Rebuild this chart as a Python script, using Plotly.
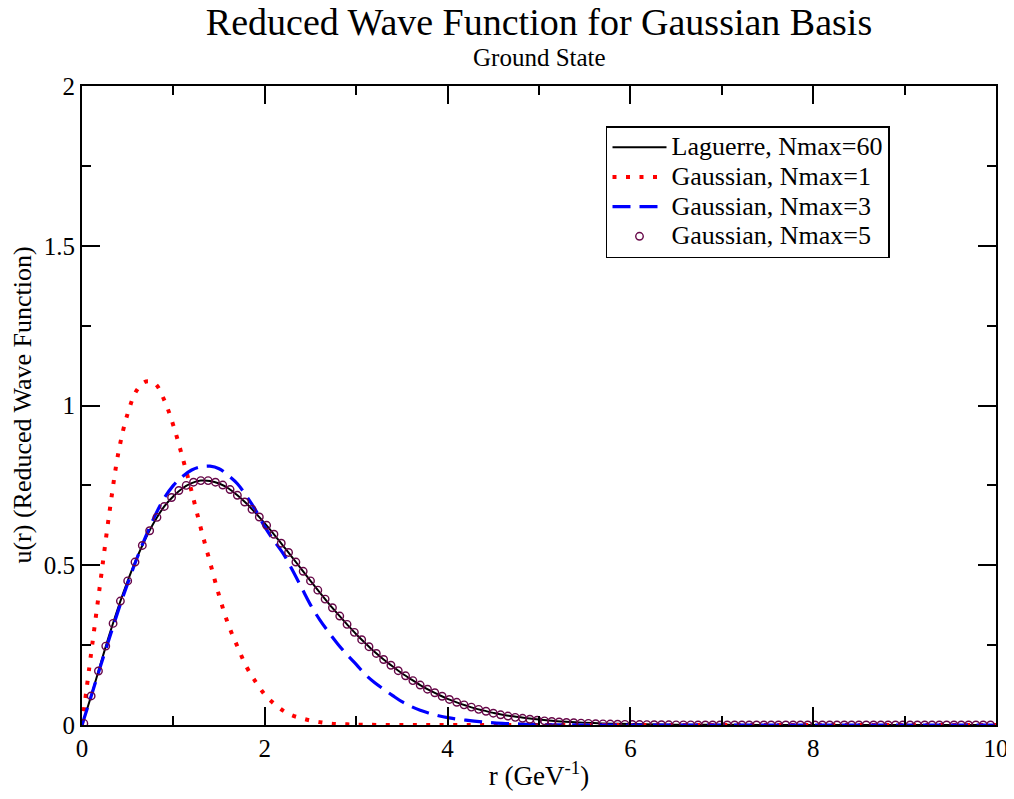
import plotly.graph_objects as go

# values
laguerre_r = [0.0, 0.1, 0.2, 0.3, 0.4, 0.5, 0.6, 0.7, 0.8, 0.9,
              1.0, 1.1, 1.2, 1.3, 1.4, 1.5, 1.6, 1.7, 1.8, 1.9,
              2.0, 2.1, 2.2, 2.3, 2.4, 2.5, 2.6, 2.7, 2.8, 2.9,
              3.0, 3.1, 3.2, 3.3, 3.4, 3.5, 3.6, 3.7, 3.8, 3.9,
              4.0, 4.1, 4.2, 4.3, 4.4, 4.5, 4.6, 4.7, 4.8, 4.9,
              5.0, 5.2, 5.4, 5.6, 5.8, 6.0, 6.5, 7.0, 8.0, 9.0, 10.0]
laguerre_u = [0.0, 0.091, 0.188, 0.283, 0.371, 0.451, 0.523, 0.586, 0.640, 0.684,
              0.716, 0.741, 0.757, 0.765, 0.764, 0.756, 0.741, 0.719, 0.693, 0.663,
              0.631, 0.597, 0.561, 0.525, 0.488, 0.451, 0.415, 0.380, 0.347, 0.315,
              0.284, 0.256, 0.229, 0.205, 0.183, 0.162, 0.143, 0.125, 0.109, 0.095,
              0.082, 0.071, 0.061, 0.052, 0.045, 0.038, 0.032, 0.028, 0.024, 0.020,
              0.017, 0.012, 0.0085, 0.006, 0.004, 0.003, 0.001, 0.0005, 0.0, 0.0, 0.0]

gauss1_r = [0.0, 0.1, 0.2, 0.3, 0.4, 0.5, 0.6, 0.7, 0.8, 0.9,
            1.0, 1.1, 1.2, 1.3, 1.4, 1.5, 1.6, 1.7, 1.8, 1.9,
            2.0, 2.1, 2.2, 2.3, 2.4, 2.5, 2.6, 2.7, 2.8, 2.9,
            3.0, 3.5, 4.0, 5.0, 6.0, 7.0, 8.0, 9.0, 10.0]
gauss1_u = [0.0, 0.225, 0.445, 0.665, 0.855, 0.975, 1.048, 1.075, 1.068, 1.017,
            0.937, 0.837, 0.730, 0.616, 0.510, 0.405, 0.315, 0.246, 0.182, 0.135,
            0.095, 0.067, 0.045, 0.030, 0.021, 0.014, 0.009, 0.005, 0.003, 0.002,
            0.001, 0.0, 0.0, 0.0, 0.0, 0.0, 0.0, 0.0, 0.0]

gauss3_r = [0.0, 0.1, 0.2, 0.3, 0.4, 0.5, 0.6, 0.7, 0.8, 0.9,
            1.0, 1.1, 1.2, 1.3, 1.4, 1.5, 1.6, 1.7, 1.8, 1.9,
            2.0, 2.1, 2.2, 2.3, 2.4, 2.5, 2.6, 2.7, 2.8, 2.9,
            3.0, 3.1, 3.2, 3.3, 3.4, 3.5, 3.6, 3.7, 3.8, 3.9,
            4.0, 4.2, 4.4, 4.6, 4.8, 5.0, 5.5, 6.0, 7.0, 8.0, 9.0, 10.0]
gauss3_u = [0.0, 0.090, 0.182, 0.272, 0.361, 0.443, 0.521, 0.592, 0.656, 0.710,
            0.750, 0.778, 0.798, 0.808, 0.810, 0.802, 0.781, 0.755, 0.716, 0.672,
            0.620, 0.577, 0.537, 0.486, 0.431, 0.376, 0.330, 0.290, 0.253, 0.220,
            0.190, 0.158, 0.133, 0.112, 0.092, 0.073, 0.058, 0.046, 0.037, 0.029,
            0.023, 0.015, 0.009, 0.005, 0.003, 0.001, 0.0, 0.0, 0.0, 0.0, 0.0, 0.0]

# Gaussian Nmax=5 samples: r starts at 0.02, step 0.08
gauss5_r0 = 0.02
gauss5_dr = 0.08
gauss5_u = [0.005, 0.091, 0.169, 0.247, 0.318, 0.388, 0.451, 0.510, 0.562, 0.608,
            0.650, 0.684, 0.712, 0.734, 0.750, 0.760, 0.765, 0.765, 0.760, 0.751,
            0.737, 0.719, 0.698, 0.675, 0.651, 0.625, 0.597, 0.569, 0.540, 0.510,
            0.481, 0.451, 0.422, 0.394, 0.367, 0.341, 0.315, 0.290, 0.267, 0.245,
            0.224, 0.205, 0.187, 0.170, 0.154, 0.139, 0.125, 0.112, 0.101, 0.090,
            0.080, 0.071, 0.063, 0.056, 0.049, 0.043, 0.037, 0.032, 0.028, 0.024,
            0.021, 0.018, 0.015, 0.013, 0.011, 0.0095, 0.008, 0.007, 0.006, 0.005,
            0.004, 0.0035, 0.003, 0.0025, 0.002, 0.0017, 0.0014, 0.0012, 0.001, 0.0008,
            0.0006, 0.0005, 0.0004, 0.0003, 0.0002, 0.0001, 0.0, 0.0, 0.0, 0.0,
            0.0, 0.0, 0.0, 0.0, 0.0, 0.0, 0.0, 0.0, 0.0, 0.0,
            0.0, 0.0, 0.0, 0.0, 0.0, 0.0, 0.0, 0.0, 0.0, 0.0,
            0.0, 0.0, 0.0, 0.0, 0.0, 0.0, 0.0, 0.0, 0.0, 0.0,
            0.0, 0.0, 0.0, 0.0, 0.0]

series_names = ["Laguerre, Nmax=60", "Gaussian, Nmax=1", "Gaussian, Nmax=3", "Gaussian, Nmax=5"]
x_ticks = [0, 2, 4, 6, 8, 10]
y_ticks = [0, 0.5, 1, 1.5, 2]
y_tick_text = ["0", "0.5", "1", "1.5", "2"]

FONT = "Liberation Serif"


def legend_label(text):
    # bigger glyphs than the legend row spacing would normally give
    return f'<span style="font-size:26px">{text}</span>'


fig = go.Figure()
fig.add_trace(go.Scatter(
    x=laguerre_r, y=laguerre_u, mode='lines', name=legend_label(series_names[0]),
    line=dict(color='black', width=2, shape='spline')))
fig.add_trace(go.Scatter(
    x=gauss1_r, y=gauss1_u, mode='lines', name=legend_label(series_names[1]),
    line=dict(color='#ff0000', width=4, dash='4px,9.5px', shape='spline')))
fig.add_trace(go.Scatter(
    x=gauss3_r, y=gauss3_u, mode='lines', name=legend_label(series_names[2]),
    line=dict(color='#0000ff', width=3.2, dash='18px,9px', shape='spline')))
fig.add_trace(go.Scatter(
    x0=gauss5_r0, dx=gauss5_dr, y=gauss5_u, mode='markers', name=legend_label(series_names[3]),
    marker=dict(symbol='circle-open', size=7.5, color='#670748', line=dict(width=1.4))))

axis_common = dict(
    showgrid=False, zeroline=False, showline=True, linecolor='black', linewidth=2,
    mirror='ticks', ticks='inside', ticklen=18, tickwidth=1.5, tickcolor='black',
    automargin=False, ticklabeloverflow='allow',
    tickfont=dict(family=FONT, size=25, color='black'))

# the page body adds 8px to the left and top of the figure
fig.update_layout(
    width=1006, height=783,
    margin=dict(l=74, r=18, t=78, b=66),
    paper_bgcolor='white', plot_bgcolor='white',
    font=dict(family=FONT, color='black'),
    title=dict(text="Reduced Wave Function for Gaussian Basis", font=dict(family=FONT, size=38),
               x=0.5, xref='paper', xanchor='center', y=0.983, yanchor='middle'),
    annotations=[
        dict(text="Ground State", x=0.5, y=1.044, xref='paper', yref='paper',
             xanchor='center', yanchor='middle', showarrow=False,
             font=dict(family=FONT, size=25)),
        dict(text="u(r) (Reduced Wave Function)", x=-0.0656, y=0.5, xref='paper', yref='paper',
             xanchor='center', yanchor='middle', textangle=-90, showarrow=False,
             font=dict(family=FONT, size=26))],
    xaxis=dict(axis_common, range=[0, 10], tickvals=x_ticks,
               minor=dict(dtick=1, ticklen=9, tickwidth=1.5, ticks='inside', tickcolor='black'),
               title=dict(text="r (GeV<sup>-1</sup>)", font=dict(family=FONT, size=27), standoff=6)),
    yaxis=dict(axis_common, range=[0, 2], tickvals=y_ticks, ticktext=y_tick_text,
               minor=dict(dtick=0.25, ticklen=9, tickwidth=1.5, ticks='inside', tickcolor='black')),
    legend=dict(x=0.5733, y=0.9374, xanchor='left', yanchor='top', bgcolor='white',
                bordercolor='black', borderwidth=1.5, font=dict(family=FONT, size=20.5),
                tracegroupgap=0, itemwidth=54),
    showlegend=True)

fig.write_html("out.html")
